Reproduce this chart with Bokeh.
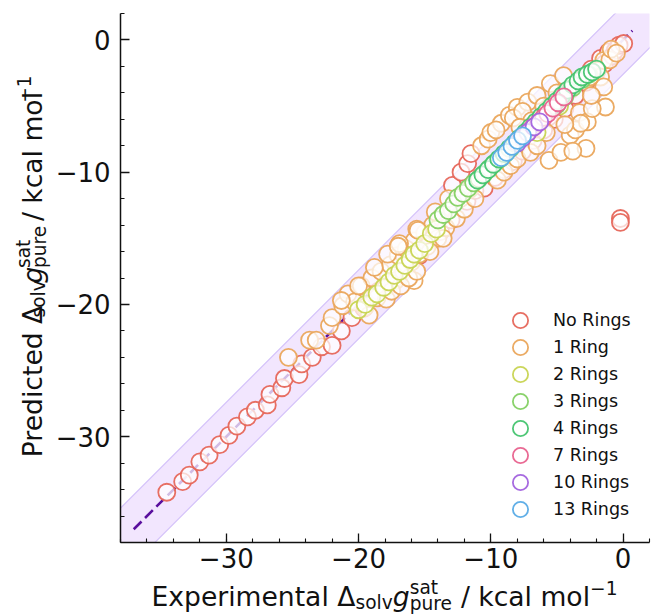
from bokeh.plotting import figure
from bokeh.layouts import column, row
from bokeh.models import Range1d, Label, Legend, LegendItem, FixedTicker
from bokeh.embed import file_html
from bokeh.resources import INLINE

# ---------------- data ----------------
categories = ["No Rings", "1 Ring", "2 Rings", "3 Rings", "4 Rings", "7 Rings", "10 Rings", "13 Rings"]
colors = ["#e6675b", "#eaa65c", "#c8d452", "#84d063", "#45c46f", "#e8628e", "#a262de", "#58abe6"]

no_rings_x = [-34.5, -33.3, -32.8, -32.0, -31.3, -30.5, -29.8, -29.2, -28.4, -27.8,
              -26.9, -26.7, -25.8, -25.6, -24.5, -24.3, -23.5, -22.8, -22.0, -21.3,
              -20.5, -19.6, -18.5, -17.4, -16.5, -15.4, -14.6, -13.8, -13.0, -12.9,
              -12.25, -11.75, -11.5, -11.8, -11.2, -10.8, -10.5, -10.0, -9.7, -9.3,
              -9.0, -8.6, -8.3, -8.0, -7.6, -7.2, -6.8, -6.4, -6.0, -5.6,
              -5.2, -4.8, -4.4, -4.0, -3.6, -3.2, -2.8, -2.4, -2.0, -1.7,
              -1.4, -1.1, -0.8, -0.58, -0.3, 0.05, -0.2, -0.2]
no_rings_y = [-34.2, -33.4, -32.9, -31.9, -31.4, -30.6, -29.9, -29.2, -28.5, -28.0,
              -27.6, -26.8, -26.3, -25.6, -25.3, -24.5, -24.0, -23.2, -23.1, -22.0,
              -21.0, -20.3, -19.0, -18.2, -17.0, -16.3, -15.2, -14.5, -13.6, -11.0,
              -10.0, -9.35, -8.6, -12.2, -11.4, -10.4, -11.2, -9.8, -10.4, -9.0,
              -9.8, -8.6, -9.2, -8.0, -8.4, -7.4, -7.6, -6.7, -6.8, -5.8,
              -6.0, -4.9, -5.2, -3.8, -4.2, -3.0, -3.2, -2.2, -2.4, -1.4,
              -1.8, -0.9, -1.2, -0.78, -0.4, -0.27, -13.5, -13.8]

ring1_x = [-25.3, -23.7, -23.2, -22.2, -22.0, -21.2, -20.8, -20.3, -19.8, -19.5,
           -19.0, -18.6, -18.3, -18.0, -17.6, -17.2, -17.0, -16.6, -16.4, -16.0,
           -15.8, -15.4, -15.0, -14.8, -14.4, -14.0, -13.8, -13.4, -13.0, -12.6,
           -12.3, -12.0, -11.6, -11.2, -18.8, -17.8, -16.9, -15.6, -14.2, -13.2,
           -10.7, -10.2, -10.0, -9.2, -8.6, -8.0, -7.2, -6.5, -5.5, -4.5,
           -9.6, -8.3, -7.6, -6.9, -6.0, -5.0, -4.0, -3.6, -3.3, -2.7,
           -1.46, -1.96, -1.7, -1.46, -1.33, -2.33, -3.2, -2.4, -1.0, -2.5,
           -0.9, -0.5, -9.5, -9.0, -8.5, -8.0, -7.0, -6.5, -5.6, -4.7,
           -2.8, -4.4, -3.8, -5.8, -7.8, -21.3, -15.5, -15.8, -20.0, -17.0,
           -17.9, -17.5, -16.8, -16.2, -15.6, -19.2, -14.6, -13.6]
ring1_y = [-24.0, -22.7, -22.7, -21.6, -21.0, -20.1, -19.2, -19.8, -18.6, -20.2,
           -18.0, -19.5, -17.5, -18.8, -17.0, -18.2, -16.3, -17.5, -15.8, -16.8,
           -15.2, -16.2, -14.6, -15.6, -14.0, -15.0, -13.4, -14.2, -12.7, -13.5,
           -12.0, -12.8, -11.3, -12.0, -17.2, -16.2, -15.4, -14.3, -13.0, -12.0,
           -8.0, -7.5, -7.0, -6.3, -5.7, -5.1, -4.7, -4.2, -3.3, -2.7,
           -6.8, -5.9, -5.4, -6.1, -5.0, -4.0, -7.2, -6.8, -5.5, -6.2,
           -1.54, -2.3, -2.8, -3.55, -5.07, -5.2, -6.3, -4.2, -1.5, -2.8,
           -0.7, -1.0, -10.6, -10.0, -9.5, -9.0, -8.5, -8.0, -9.1, -8.5,
           -8.2, -6.4, -8.4, -7.0, -6.6, -19.7, -14.4, -18.2, -18.6, -15.6,
           -19.6, -19.0, -18.6, -18.0, -17.5, -20.8, -16.0, -15.0]

ring2_x = [-20.0, -19.5, -19.0, -18.6, -18.1, -17.7, -17.3, -16.9, -16.5, -16.1,
           -15.8, -15.4, -15.0, -14.5, -14.1, -4.8, -6.5]
ring2_y = [-20.4, -20.0, -19.45, -19.2, -18.7, -18.3, -17.8, -17.5, -17.05, -16.6,
           -16.2, -15.9, -15.4, -14.65, -14.3, -5.0, -7.0]

ring3_x = [-14.0, -13.6, -13.2, -12.8, -12.5, -12.1, -11.7, -11.3, -10.9, -10.5,
           -10.1, -9.7, -9.3, -8.9, -8.5, -8.1, -5.0, -4.4, -3.8, -3.1, -2.6]
ring3_y = [-13.6, -13.2, -12.9, -12.4, -11.9, -11.6, -11.2, -10.8, -10.5, -10.1,
           -9.7, -9.3, -9.0, -8.6, -8.2, -7.8, -4.9, -4.3, -3.6, -3.0, -2.6]

ring4_x = [-11.0, -10.6, -10.2, -9.8, -9.4, -9.0, -8.6, -8.2, -7.8, -7.4,
           -7.0, -6.6, -6.2, -5.8, -5.4, -5.0, -4.6, -4.2, -3.8, -3.4,
           -3.1, -2.7, -2.33, -2.0]
ring4_y = [-10.6, -10.2, -9.8, -9.4, -9.0, -8.6, -8.2, -7.8, -7.4, -7.0,
           -6.6, -6.2, -5.8, -5.4, -5.0, -4.6, -4.2, -3.8, -3.4, -3.1,
           -2.8, -2.6, -2.42, -2.2]

ring7_x = [-7.2, -6.8, -6.4, -6.0, -5.7, -5.3, -4.9, -4.47]
ring7_y = [-7.0, -6.6, -6.25, -5.85, -5.57, -5.15, -4.75, -4.31]

ring10_x = [-8.0, -7.6, -7.2, -6.73, -6.3]
ring10_y = [-7.8, -7.4, -7.0, -6.58, -6.2]

ring13_x = [-9.2, -8.8, -8.4, -7.98, -7.6]
ring13_y = [-8.9, -8.5, -8.05, -7.59, -7.25]

series_x = [no_rings_x, ring1_x, ring2_x, ring3_x, ring4_x, ring7_x, ring10_x, ring13_x]
series_y = [no_rings_y, ring1_y, ring2_y, ring3_y, ring4_y, ring7_y, ring10_y, ring13_y]

x_limits = [-38.0, 2.0]
y_limits = [-38.0, 2.0]
major_ticks = [-30, -20, -10, 0]
minor_ticks = list(range(-38, 3, 2))
tick_labels = {-30: "\u221230", -20: "\u221220", -10: "\u221210", 0: "0"}
parity_line = [-37.0, 0.7]
band_halfwidth = 2.6

# ---------------- main figure ----------------
YLAB_W = 52
MAIN_H = 578
p = figure(width=651 - YLAB_W, height=MAIN_H, output_backend="svg", toolbar_location=None,
           x_range=Range1d(*x_limits), y_range=Range1d(*y_limits),
           min_border_left=118 - YLAB_W, min_border_right=2, min_border_top=13, min_border_bottom=36)
p.outline_line_color = None
p.xgrid.visible = False
p.ygrid.visible = False

bx = [x_limits[0] - 5, x_limits[1] + 5]
p.varea(x=bx, y1=[v - band_halfwidth for v in bx], y2=[v + band_halfwidth for v in bx],
        fill_color="#ecdcfd", fill_alpha=0.7)
p.line(x=bx, y=[v - band_halfwidth for v in bx], line_color="#d4c2fa", line_width=1.2)
p.line(x=bx, y=[v + band_halfwidth for v in bx], line_color="#d4c2fa", line_width=1.2)

p.line(x=parity_line, y=parity_line, line_color="#5a0f9e", line_width=2.6, line_dash="11 5")

renderers = []
for name, col, xs, ys in zip(categories, colors, series_x, series_y):
    r = p.scatter(x=xs, y=ys, size=17, marker="circle", fill_color="white", fill_alpha=0.72,
                  line_color=col, line_width=1.8, line_alpha=0.95)
    renderers.append(r)

# two interleaved legends so that markers are large while rows stay close together
legend_style = dict(glyph_width=38, glyph_height=38, spacing=16, label_standoff=14,
                    padding=0, margin=0, border_line_color=None, background_fill_alpha=0.0,
                    label_text_font="DejaVu Sans", label_text_font_size="17.5px",
                    label_text_color="#111111")
items = [LegendItem(label=n, renderers=[r]) for n, r in zip(categories, renderers)]
p.add_layout(Legend(items=items[0::2], location=(381, 41), **legend_style))
p.add_layout(Legend(items=items[1::2], location=(381, 14), **legend_style))

for ax in (p.xaxis[0], p.yaxis[0]):
    ax.ticker = FixedTicker(ticks=major_ticks, minor_ticks=minor_ticks)
    ax.major_label_overrides = tick_labels
    ax.major_label_text_font = "DejaVu Sans"
    ax.major_label_text_font_size = "26px"
    ax.major_label_text_color = "#111111"
    ax.axis_line_color = "#111111"
    ax.axis_line_width = 1.5
    ax.major_tick_in = 9
    ax.major_tick_out = 0
    ax.minor_tick_in = 4
    ax.minor_tick_out = 0
    ax.major_tick_line_color = "#111111"
    ax.minor_tick_line_color = "#111111"
    ax.major_tick_line_width = 1.3
    ax.minor_tick_line_width = 1.1
p.xaxis.major_label_standoff = 5
p.yaxis.major_label_standoff = 10

# ---------------- axis titles with sub/superscripts ----------------
W = {" ": 0.318, "E": 0.632, "x": 0.592, "p": 0.635, "e": 0.615, "r": 0.411, "i": 0.278,
     "m": 0.974, "n": 0.634, "t": 0.392, "a": 0.613, "l": 0.278, "\u0394": 0.684, "s": 0.521,
     "o": 0.612, "v": 0.592, "g": 0.635, "u": 0.634, "/": 0.337, "k": 0.579, "c": 0.550,
     "\u2212": 0.838, "1": 0.636, "P": 0.603, "d": 0.635}
F = 26.6
S = 0.7 * F
BASELINE_FIX = 0.35   # rendered baseline sits this many font-sizes below the anchor


def tw(s, size):
    return sum(W[c] for c in s) * size


def label_parts(first_word):
    # (text, size, shift up in px, italic, advances, leading gap in px)
    return [
        (first_word + " \u0394", F, 0, False, True, 0),
        ("solv", S, -4, False, True, 0),
        ("g", F, 0, True, True, 0),
        ("sat", S, 11, False, False, 0),
        ("pure", S, -5, False, True, 0),
        ("/ kcal mol", F, 0, False, True, W[" "] * F),
        ("\u22121", S, 11, False, True, 0),
    ]


def label_fig(w, h):
    f = figure(width=w, height=h, x_range=Range1d(0, w), y_range=Range1d(0, h),
               x_axis_type=None, y_axis_type=None, output_backend="svg",
               toolbar_location=None, min_border=0)
    f.outline_line_color = None
    return f


def place_label(fig, parts, center, base, vertical):
    total = sum(tw(t, s) + lead for t, s, _, _, adv, lead in parts if adv)
    pos = center - total / 2
    for text, size, shift, ital, adv, lead in parts:
        pos += lead
        common = dict(text=text, text_font="DejaVu Sans", text_font_size=f"{size:.1f}px",
                      text_font_style="italic" if ital else "normal",
                      text_color="#111111", text_align="left", text_baseline="alphabetic")
        off = shift + BASELINE_FIX * size
        if vertical:
            lab = Label(x=base - off, y=pos, angle=90, angle_units="deg", **common)
        else:
            lab = Label(x=pos, y=base + off, **common)
        fig.add_layout(lab)
        if adv:
            pos += tw(text, size)


ylab = label_fig(YLAB_W, MAIN_H)
place_label(ylab, label_parts("Predicted"), center=MAIN_H - 277.5, base=41, vertical=True)
xlab = label_fig(651, 616 - MAIN_H)
place_label(xlab, label_parts("Experimental"), center=384, base=11, vertical=False)

layout = column(row(ylab, p), xlab)
open("out.html", "w").write(file_html(layout, INLINE))
